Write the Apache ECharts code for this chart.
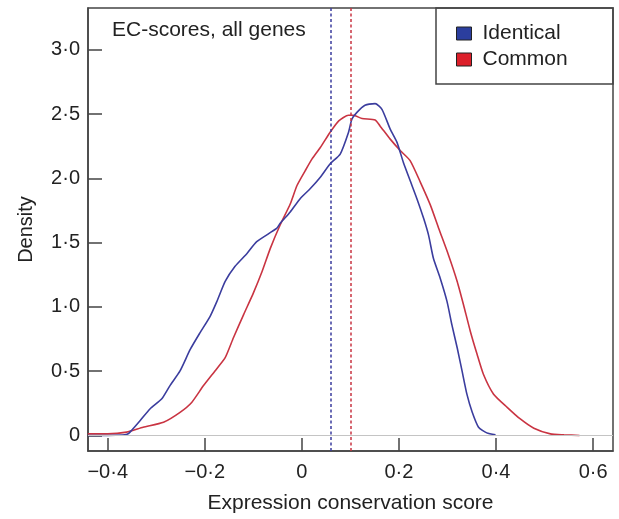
<!DOCTYPE html>
<html>
<head>
<meta charset="utf-8">
<script src="https://cdn.jsdelivr.net/npm/echarts@6/dist/echarts.min.js"></script>
<style>html,body{margin:0;padding:0;background:#fff;}#c{width:619px;height:519px;}</style>
</head>
<body>
<div id="c"></div>
<script>
// ---- data ----
const xTicks = [-0.4, -0.2, 0, 0.2, 0.4, 0.6];
const yTicks = [0, 0.5, 1.0, 1.5, 2.0, 2.5, 3.0];
const seriesNames = ['Identical', 'Common'];
const identicalCurve = [
  [-0.441, 0.0], [-0.40, 0.0], [-0.37, 0.003], [-0.36, 0.01], [-0.354, 0.026], [-0.333, 0.116],
  [-0.313, 0.206], [-0.289, 0.283], [-0.272, 0.386], [-0.251, 0.502], [-0.230, 0.669],
  [-0.210, 0.798], [-0.189, 0.927], [-0.175, 1.043], [-0.158, 1.198], [-0.138, 1.314],
  [-0.113, 1.416], [-0.093, 1.507], [-0.052, 1.610], [-0.045, 1.648], [-0.024, 1.739],
  [-0.0035, 1.842], [0.017, 1.919], [0.038, 2.009], [0.058, 2.112], [0.079, 2.189],
  [0.096, 2.357], [0.103, 2.460], [0.113, 2.511], [0.130, 2.568], [0.151, 2.581],
  [0.165, 2.537], [0.182, 2.383], [0.196, 2.280], [0.209, 2.125], [0.223, 1.983],
  [0.237, 1.842], [0.251, 1.687], [0.261, 1.558], [0.271, 1.378], [0.285, 1.223],
  [0.299, 1.043], [0.309, 0.862], [0.320, 0.682], [0.330, 0.502], [0.340, 0.321],
  [0.351, 0.180], [0.364, 0.064], [0.381, 0.020], [0.399, 0.005]
];
const commonCurve = [
  [-0.441, 0.012], [-0.40, 0.012], [-0.361, 0.026], [-0.327, 0.064], [-0.285, 0.103],
  [-0.251, 0.180], [-0.227, 0.257], [-0.203, 0.386], [-0.179, 0.502], [-0.158, 0.605],
  [-0.141, 0.760], [-0.120, 0.940], [-0.100, 1.107], [-0.082, 1.275], [-0.065, 1.455],
  [-0.045, 1.635], [-0.024, 1.800], [-0.010, 1.944], [0.007, 2.060], [0.021, 2.151],
  [0.038, 2.240], [0.058, 2.357], [0.076, 2.447], [0.096, 2.491], [0.106, 2.491],
  [0.124, 2.465], [0.151, 2.454], [0.161, 2.408], [0.182, 2.305], [0.203, 2.215],
  [0.223, 2.138], [0.244, 1.971], [0.265, 1.790], [0.282, 1.610], [0.302, 1.404],
  [0.320, 1.198], [0.333, 1.017], [0.347, 0.811], [0.361, 0.631], [0.374, 0.476],
  [0.395, 0.321], [0.423, 0.219], [0.450, 0.128], [0.478, 0.056], [0.512, 0.012],
  [0.540, 0.005], [0.572, 0.0]
];
const means = [0.06, 0.10];
const titleText = 'EC-scores, all genes';
const xName = 'Expression conservation score';
const yName = 'Density';

// ---- styles ----
const lineColors = ['#3b3d9e', '#c93442'];
const legendColors = ['#2b3e9e', '#dc1f2a'];
const FONT = 'Liberation Sans, Arial, sans-serif';
const axisColor = '#444';

function fmtY(v) { return v === 0 ? '0' : v.toFixed(1).replace('.', '\u00b7'); }
function fmtX(v) {
  if (Math.abs(v) < 1e-9) return '0';
  return (v < 0 ? '\u2212' : '') + Math.abs(v).toFixed(1).replace('.', '\u00b7');
}

const chart = echarts.init(document.getElementById('c'), null, { renderer: 'canvas' });
chart.setOption({
  animation: false,
  backgroundColor: '#fff',
  title: {
    text: titleText, left: 112, top: 20, padding: 0,
    textStyle: { fontFamily: FONT, fontSize: 21, fontWeight: 'normal', color: '#222' }
  },
  grid: { left: 88, top: 8, right: 6, bottom: 65, show: true, borderColor: axisColor, borderWidth: 1.5 },
  legend: {
    left: 456, top: 23, padding: 0, orient: 'vertical', itemGap: 5,
    itemWidth: 15, itemHeight: 13, selectedMode: false,
    textStyle: { fontFamily: FONT, fontSize: 21, color: '#222', padding: [0, 0, 0, 6] },
    data: seriesNames.map((n, i) => ({
      name: n, icon: 'rect',
      itemStyle: { color: legendColors[i], borderColor: '#222', borderWidth: 1 }
    }))
  },
  graphic: [{
    type: 'rect', shape: { x: 436, y: 8, width: 177, height: 76 },
    style: { fill: 'none', stroke: axisColor, lineWidth: 1.5 }, z: 10
  }],
  xAxis: {
    type: 'value', min: -0.4406, max: 0.641,
    name: xName, nameLocation: 'middle', nameGap: 42,
    nameTextStyle: { fontFamily: FONT, fontSize: 21, color: '#222' },
    axisLine: { show: true, onZero: false, lineStyle: { color: axisColor, width: 1.5 } },
    axisTick: { show: true, inside: true, length: 13, customValues: xTicks, lineStyle: { color: axisColor, width: 1.5 } },
    axisLabel: { customValues: xTicks, margin: 11, formatter: fmtX, fontFamily: FONT, fontSize: 20, color: '#222' },
    splitLine: { show: false }
  },
  yAxis: {
    type: 'value', min: -0.121, max: 3.325,
    name: yName, nameLocation: 'middle', nameGap: 52,
    nameTextStyle: { fontFamily: FONT, fontSize: 20, color: '#222' },
    axisLine: { show: true, onZero: false, lineStyle: { color: axisColor, width: 1.5 } },
    axisTick: { show: true, inside: true, length: 14, customValues: yTicks, lineStyle: { color: axisColor, width: 1.5 } },
    axisLabel: { customValues: yTicks, margin: 8, formatter: fmtY, fontFamily: FONT, fontSize: 20, color: '#222' },
    splitLine: { show: false }
  },
  series: [
    {
      name: seriesNames[0], type: 'line', data: identicalCurve, showSymbol: false, smooth: 0.2,
      lineStyle: { color: lineColors[0], width: 1.6 }, itemStyle: { color: legendColors[0] }, z: 3,
      markLine: {
        silent: true, symbol: 'none', label: { show: false },
        data: [
          { yAxis: 0, lineStyle: { color: '#c4c4c4', width: 1.2, type: 'solid' } },
          { xAxis: means[0], lineStyle: { color: lineColors[0], width: 1.5, type: [3, 2.5] } }
        ]
      }
    },
    {
      name: seriesNames[1], type: 'line', data: commonCurve, showSymbol: false, smooth: 0.2,
      lineStyle: { color: lineColors[1], width: 1.6 }, itemStyle: { color: legendColors[1] }, z: 2,
      markLine: {
        silent: true, symbol: 'none', label: { show: false },
        data: [
          { xAxis: means[1], lineStyle: { color: lineColors[1], width: 1.5, type: [3, 2.5] } }
        ]
      }
    }
  ]
});
</script>
</body>
</html>
